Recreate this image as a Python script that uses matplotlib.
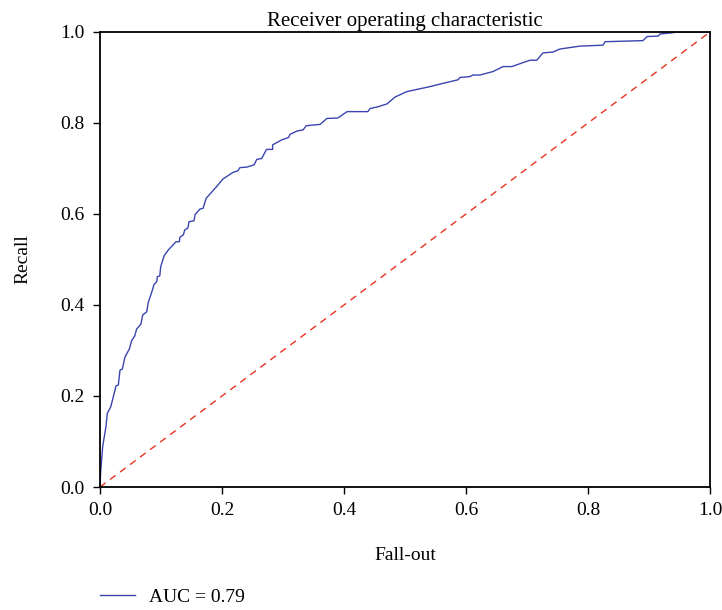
import matplotlib.pyplot as plt
import numpy as np

plt.rcParams['font.family'] = ['Liberation Serif', 'DejaVu Serif']

# ROC points (fall-out, recall)
fpr = [0.0, 0.001, 0.0044, 0.0098, 0.012, 0.0175, 0.0218, 0.0262, 0.030, 0.0328,
       0.0366, 0.041, 0.048, 0.052, 0.057, 0.060, 0.067, 0.070, 0.0766, 0.079,
       0.085, 0.0885, 0.093, 0.094, 0.098, 0.0995, 0.105, 0.112, 0.1246, 0.130,
       0.131, 0.1366, 0.139, 0.144, 0.146, 0.154, 0.156, 0.164, 0.169, 0.174,
       0.191, 0.2016, 0.2175, 0.226, 0.2295, 0.2405, 0.2525, 0.257, 0.265, 0.273,
       0.283, 0.283, 0.298, 0.309, 0.3115, 0.3225, 0.333, 0.338, 0.361, 0.372,
       0.390, 0.405, 0.439, 0.443, 0.454, 0.4705, 0.4836, 0.503, 0.541, 0.562,
       0.587, 0.590, 0.6066, 0.6115, 0.623, 0.644, 0.661, 0.675, 0.693, 0.705,
       0.716, 0.726, 0.7426, 0.754, 0.787, 0.8246, 0.828, 0.890, 0.897, 0.915,
       0.918, 0.939, 0.945, 1.0]
tpr = [0.0, 0.031, 0.089, 0.133, 0.162, 0.176, 0.198, 0.222, 0.224, 0.257,
       0.259, 0.286, 0.303, 0.322, 0.332, 0.347, 0.358, 0.378, 0.385, 0.405,
       0.429, 0.445, 0.451, 0.462, 0.464, 0.484, 0.508, 0.521, 0.539, 0.539,
       0.549, 0.554, 0.565, 0.569, 0.583, 0.585, 0.599, 0.611, 0.6125, 0.6345,
       0.660, 0.677, 0.691, 0.695, 0.702, 0.703, 0.708, 0.720, 0.722, 0.742,
       0.742, 0.752, 0.763, 0.768, 0.775, 0.782, 0.785, 0.794, 0.797, 0.810,
       0.811, 0.825, 0.825, 0.832, 0.835, 0.842, 0.857, 0.869, 0.880, 0.887,
       0.895, 0.900, 0.902, 0.9055, 0.9055, 0.913, 0.924, 0.924, 0.9325, 0.938,
       0.938, 0.954, 0.956, 0.9626, 0.969, 0.971, 0.9787, 0.981, 0.990, 0.991,
       0.9956, 0.9985, 1.0, 1.0]
auc = 0.79

fig = plt.figure(figsize=(7.22, 6.10), dpi=100)
ax = fig.add_axes([100 / 722, 1 - 487 / 610, 610 / 722, 455 / 610])

ax.plot(fpr, tpr, color='#3a44b0', lw=1.0, label='AUC = %0.2f' % auc)
ax.plot([0, 1], [0, 1], color='#e8321e', lw=1.0, ls=(0, (5, 4)))

ax.set_xlim(0, 1)
ax.set_ylim(0, 1)
ax.set_xticks(np.arange(0, 1.01, 0.2))
ax.set_yticks(np.arange(0, 1.01, 0.2))
ax.tick_params(direction='out', length=5, width=1, labelsize=14, pad=6)
for s in ax.spines.values():
    s.set_linewidth(1.3)

ax.set_title('Receiver operating characteristic', fontsize=15, pad=4)
ax.set_xlabel('Fall-out', fontsize=14, labelpad=20)
ax.set_ylabel('Recall', fontsize=14, labelpad=21)

ax.legend(loc='center left', bbox_to_anchor=(0, -0.242), frameon=False,
          fontsize=14, borderaxespad=0, borderpad=0,
          handlelength=1.8, handletextpad=0.7)

plt.savefig('out.png', dpi=100)
